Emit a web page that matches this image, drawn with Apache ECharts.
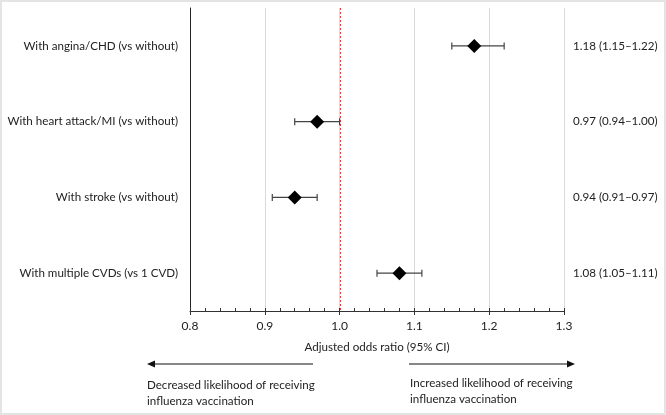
<!DOCTYPE html>
<html>
<head>
<meta charset="utf-8">
<script src="https://cdn.jsdelivr.net/npm/echarts@6/dist/echarts.min.js"></script>
<style>
html,body{margin:0;padding:0;background:#fff;}
#chart{width:666px;height:415px;}
</style>
</head>
<body>
<div id="chart"></div>
<script>
const categories = [
  'With angina/CHD (vs without)',
  'With heart attack/MI (vs without)',
  'With stroke (vs without)',
  'With multiple CVDs (vs 1 CVD)'
];
const oddsRatio = [1.18, 0.97, 0.94, 1.08];
const ciLower = [1.15, 0.94, 0.91, 1.05];
const ciUpper = [1.22, 1.00, 0.97, 1.11];
const rightLabels = ['1.18 (1.15\u20131.22)', '0.97 (0.94\u20131.00)', '0.94 (0.91\u20130.97)', '1.08 (1.05\u20131.11)'];
const xTicks = [0.8, 0.9, 1.0, 1.1, 1.2, 1.3];
const referenceOR = 1.0;

const FONT = 'Lato';
const FS = 11.6;
const TXT = '#222';

const chart = echarts.init(document.getElementById('chart'), null, {renderer: 'canvas'});

const option = {
  animation: false,
  grid: {left: 190, right: 102, top: 8, bottom: 104},
  xAxis: [{
    type: 'value',
    min: 0.8, max: 1.3, interval: 0.1,
    name: 'Adjusted odds ratio (95% CI)',
    nameLocation: 'middle',
    nameGap: 30,
    nameTextStyle: {fontFamily: FONT, fontSize: FS, color: TXT},
    axisLine: {show: true, lineStyle: {color: '#333', width: 1}},
    axisTick: {show: true, length: 4, lineStyle: {color: '#333'}},
    axisLabel: {fontFamily: FONT, fontSize: 12, color: TXT, margin: 9,
      formatter: v => { const t = xTicks.find(x => Math.abs(x - v) < 1e-6); return t !== undefined ? t.toFixed(1) : ''; }},
    splitLine: {show: true, lineStyle: {color: '#d9d9d9', width: 1}}
  }, {
    type: 'value',
    min: 0.8, max: 1.3, interval: 0.02,
    position: 'bottom',
    axisLine: {show: false},
    axisTick: {show: true, inside: true, length: 3, lineStyle: {color: '#333'}},
    axisLabel: {show: false},
    splitLine: {show: false}
  }],
  yAxis: [{
    type: 'category',
    data: categories,
    inverse: true,
    axisLine: {show: true, lineStyle: {color: '#222', width: 1}},
    axisTick: {show: false},
    axisLabel: {fontFamily: FONT, fontSize: FS, color: TXT, margin: 12},
    splitLine: {show: false}
  }, {
    type: 'category',
    data: rightLabels,
    inverse: true,
    position: 'right',
    axisLine: {show: false},
    axisTick: {show: false},
    axisLabel: {fontFamily: FONT, fontSize: FS, color: TXT, margin: 9},
    splitLine: {show: false}
  }],
  series: [{
    type: 'custom',
    xAxisIndex: 0, yAxisIndex: 0,
    data: [[referenceOR]],
    silent: true,
    renderItem: function (params, api) {
      const cs = params.coordSys;
      const x = Math.round(api.coord([api.value(0), 0])[0]) + 0.5;
      return {
        type: 'line',
        shape: {x1: x, y1: cs.y, x2: x, y2: cs.y + cs.height},
        style: {stroke: '#e03c3c', lineWidth: 1, lineDash: [2, 2]}
      };
    },
    z: 1
  }, {
    type: 'custom',
    xAxisIndex: 0, yAxisIndex: 0,
    data: categories.map((c, i) => [ciLower[i], ciUpper[i], i]),
    encode: {x: [0, 1], y: 2},
    renderItem: function (params, api) {
      const idx = api.value(2);
      const p1 = api.coord([api.value(0), idx]);
      const p2 = api.coord([api.value(1), idx]);
      const h = 3.5;
      const style = {stroke: '#444', lineWidth: 1.2};
      return {
        type: 'group',
        children: [
          {type: 'line', shape: {x1: p1[0], y1: p1[1], x2: p2[0], y2: p2[1]}, style: style},
          {type: 'line', shape: {x1: p1[0], y1: p1[1] - h, x2: p1[0], y2: p1[1] + h}, style: style},
          {type: 'line', shape: {x1: p2[0], y1: p2[1] - h, x2: p2[0], y2: p2[1] + h}, style: style}
        ]
      };
    },
    z: 2
  }, {
    type: 'scatter',
    xAxisIndex: 0, yAxisIndex: 0,
    data: oddsRatio.map((v, i) => [v, i]),
    symbol: 'diamond',
    symbolSize: [14, 14],
    itemStyle: {color: '#000', opacity: 1},
    z: 3
  }],
  graphic: [
    {type: 'rect', shape: {x: 1, y: 1, width: 664, height: 413}, style: {fill: 'none', stroke: '#e4e4e4', lineWidth: 2}, silent: true},
    {type: 'line', shape: {x1: 154, y1: 364, x2: 313, y2: 364}, style: {stroke: '#111', lineWidth: 1.2}},
    {type: 'polygon', shape: {points: [[147, 364], [155, 360.5], [155, 367.5]]}, style: {fill: '#111'}},
    {type: 'line', shape: {x1: 409, y1: 364, x2: 568, y2: 364}, style: {stroke: '#111', lineWidth: 1.2}},
    {type: 'polygon', shape: {points: [[575, 364], [567, 360.5], [567, 367.5]]}, style: {fill: '#111'}},
    {type: 'text', left: 147, top: 377, style: {text: 'Decreased likelihood of receiving\ninfluenza vaccination', fontFamily: FONT, fontSize: FS, fill: TXT, lineHeight: 16}},
    {type: 'text', left: 410, top: 375, style: {text: 'Increased likelihood of receiving\ninfluenza vaccination', fontFamily: FONT, fontSize: FS, fill: TXT, lineHeight: 16}}
  ]
};

chart.setOption(option);
</script>
</body>
</html>
